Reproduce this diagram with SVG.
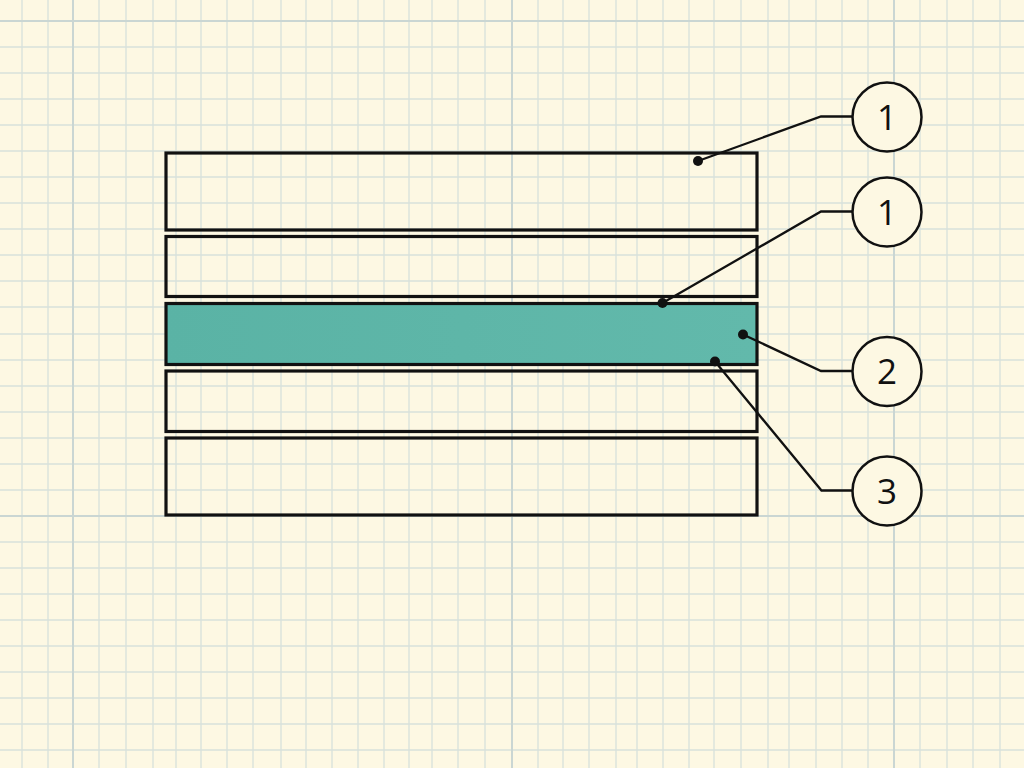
<svg xmlns="http://www.w3.org/2000/svg" width="1024" height="768" viewBox="0 0 1024 768">
<defs>
<style>
.bg{fill:#fdf8e3}
.grid{stroke:#d8e1dc;stroke-width:1.3;fill:none}
.major{stroke:#cad6d3;stroke-width:2;fill:none}
.layer{fill:none;stroke:#111111;stroke-width:3.2}
.teal{fill:url(#tealGrad);stroke:#111111;stroke-width:3.2}
.leader{fill:none;stroke:#111111;stroke-width:2.3;stroke-linejoin:miter}
.dot{fill:#111111}
.callout{fill:#fdf8e3;stroke:#111111;stroke-width:2.5}
.lbl{font-family:"Open Sans","DejaVu Sans",sans-serif;font-size:35px;fill:#111111;text-anchor:middle}
</style>
<linearGradient id="tealGrad" x1="0" y1="0" x2="1" y2="0">
<stop offset="0" stop-color="#5ab3a5"/>
<stop offset="1" stop-color="#62b9ab"/>
</linearGradient>
</defs>
<rect class="bg" x="0" y="0" width="1024" height="768"/>
<g id="grid">
<path class="grid" d="M22 0V768M48 0V768M99 0V768M126 0V768M153 0V768M176 0V768M201 0V768M227 0V768M253 0V768M281 0V768M306 0V768M332 0V768M358 0V768M384 0V768M409 0V768M432 0V768M458 0V768M485 0V768M538 0V768M563 0V768M589 0V768M616 0V768M637 0V768M663 0V768M689 0V768M714 0V768M741 0V768M768 0V768M789 0V768M816 0V768M842 0V768M868 0V768M920 0V768M947 0V768M973 0V768M1000 0V768"/>
<path class="grid" d="M0 47H1024M0 73H1024M0 99H1024M0 125H1024M0 151H1024M0 177H1024M0 203H1024M0 229H1024M0 255H1024M0 281H1024M0 307H1024M0 334H1024M0 360H1024M0 386H1024M0 412H1024M0 438H1024M0 464H1024M0 490H1024M0 542H1024M0 568H1024M0 594H1024M0 620H1024M0 646H1024M0 672H1024M0 698H1024M0 724H1024M0 750H1024"/>
<path class="major" d="M73 0V768M512 0V768M894 0V768M0 21H1024M0 516H1024"/>
</g>
<g id="layer1"><rect class="layer" x="166" y="153" width="591" height="77"/></g>
<g id="layer2"><rect class="layer" x="166" y="236.5" width="591" height="60"/></g>
<g id="layer3"><rect class="teal" x="166" y="303.5" width="591" height="61"/></g>
<g id="layer4"><rect class="layer" x="166" y="371" width="591" height="60.5"/></g>
<g id="layer5"><rect class="layer" x="166" y="438" width="591" height="77"/></g>
<g id="connectors">
<path class="leader" d="M698 161L821 116.5H853"/>
<path class="leader" d="M662.5 303L821 211.5H853"/>
<path class="leader" d="M743 334.5L821 371H853"/>
<path class="leader" d="M715 361.5L821.5 490.5H853"/>
<circle class="dot" cx="698" cy="161" r="5"/>
<circle class="dot" cx="662.5" cy="303" r="5"/>
<circle class="dot" cx="743" cy="334.5" r="5"/>
<circle class="dot" cx="715" cy="361.5" r="5"/>
</g>
<g id="callout1a"><circle class="callout" cx="887" cy="117" r="34.5"/><text class="lbl" x="887" y="129.5">1</text></g>
<g id="callout1b"><circle class="callout" cx="887" cy="212" r="34.5"/><text class="lbl" x="887" y="224.5">1</text></g>
<g id="callout2"><circle class="callout" cx="887" cy="371.5" r="34.5"/><text class="lbl" x="887" y="384">2</text></g>
<g id="callout3"><circle class="callout" cx="887" cy="491" r="34.5"/><text class="lbl" x="887" y="503.5">3</text></g>
</svg>
